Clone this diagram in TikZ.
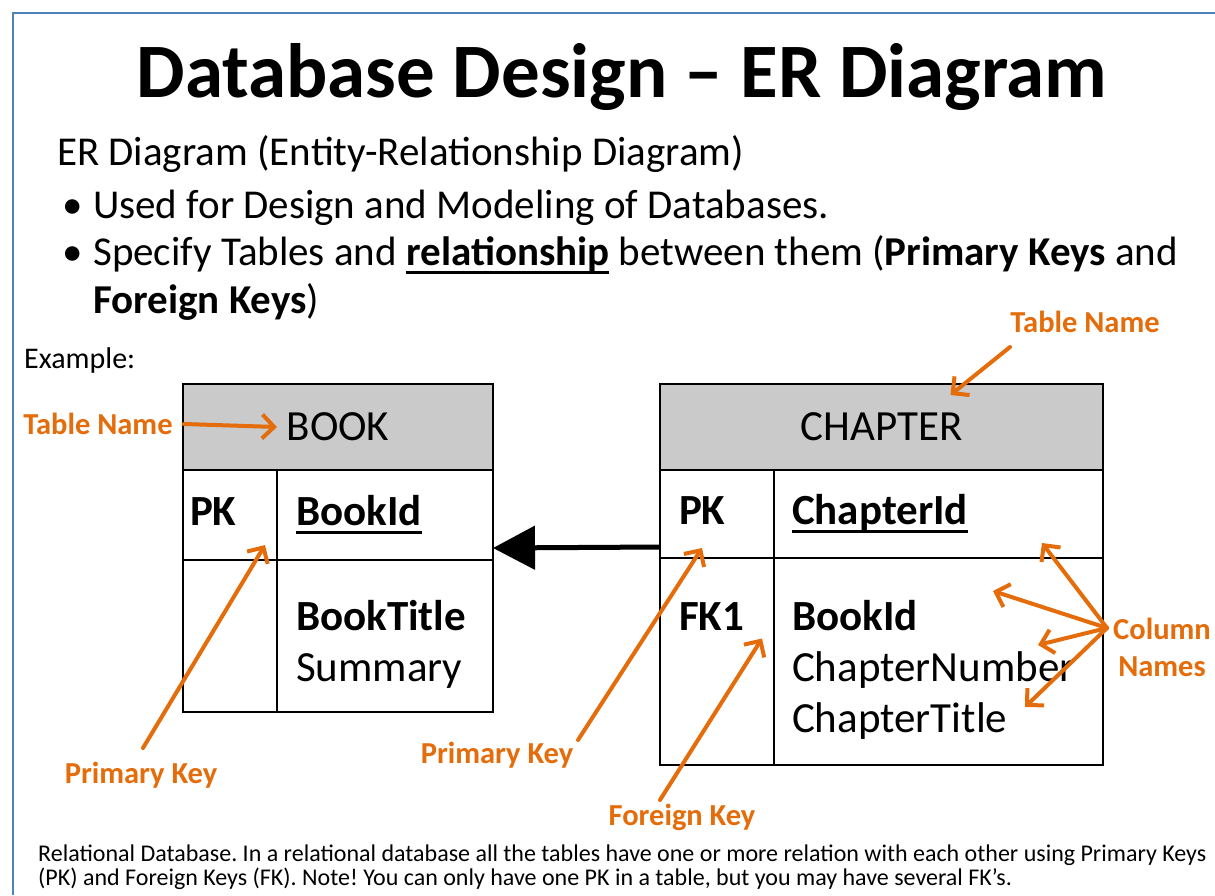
\documentclass[tikz,border=0pt]{standalone}
\usepackage{fontspec}
\setmainfont{Carlito}
\usepackage{tikz}
\usetikzlibrary{positioning}
\usetikzlibrary{arrows.meta}
\frenchspacing

\definecolor{callout}{HTML}{E46C0A}
\definecolor{frameblue}{HTML}{4F81BD}
\definecolor{headgray}{HTML}{CACACA}

\newcommand{\firstrow}{\rule{0pt}{56pt}}
\newcommand{\keyname}[1]{\setbox0\hbox{#1}\rlap{\rule[-9pt]{\wd0}{3pt}}\box0\relax}

\tikzset{
  tablecell/.style={rectangle, draw=black, line width=2.5pt, outer sep=0pt, inner ysep=0pt, align=left, font=\fontsize{43}{51}\selectfont},
  headcell/.style={tablecell, fill=headgray, align=center, minimum height=86pt},
  slidetext/.style={anchor=base west, inner sep=0pt, font=\fontsize{41}{48}\selectfont},
  callouttext/.style={text=callout, inner sep=1pt, font=\fontsize{30.5}{37}\selectfont\bfseries},
  pointer/.style={draw=callout, line width=4pt, line cap=round, -{Straight Barb[length=12pt,width=24pt]}},
  relation/.style={draw=black, line width=5pt, -{Triangle[length=42pt,width=43pt]}}
}

\begin{document}
\begin{tikzpicture}[x=1pt, y=-1pt]
  \useasboundingbox (0,0) rectangle (1215,895);
  \draw [frameblue, line width=1.5pt] (13,895) -- (13,13) -- (1215,13);

  % heading and bullets
  \node (title) [anchor=base, font=\fontsize{77}{90}\selectfont\bfseries] at (622,97) {Database Design -- ER Diagram};
  \node (subtitle) [slidetext] at (57,165) {ER Diagram (Entity-Relationship Diagram)};
  \node (dot 1) [slidetext] at (62,218) {\textbullet};
  \node (bullet 1) [slidetext] at (93,218) {Used for Design and Modeling of Databases.};
  \node (dot 2) [slidetext] at (62,265) {\textbullet};
  \node (bullet 2) [slidetext] at (93,265) {Specify Tables and \keyname{\textbf{relationship}} between them (\textbf{Primary Keys} and};
  \node (bullet 2 cont) [slidetext] at (93,313) {\textbf{Foreign Keys})};
  \node (example) [slidetext, font=\fontsize{30}{34}\selectfont] at (24,368) {Example:};

  % BOOK table
  \node (book header) [headcell, minimum width=310pt, anchor=north west] at (183,384) {BOOK};
  \node (book pk key) [tablecell, minimum width=94pt, text width=80pt, inner xsep=7pt, minimum height=90pt, below right=0pt of book header.south west] {\strut\textbf{PK}};
  \node (book pk col) [tablecell, minimum width=216pt, text width=178pt, inner xsep=19pt, minimum height=90pt, right=0pt of book pk key] {\strut\keyname{\textbf{BookId}}};
  \node (book attr key) [tablecell, minimum width=94pt, text width=80pt, inner xsep=7pt, minimum height=152pt, below=0pt of book pk key] {};
  \node (book attr col) [tablecell, minimum width=216pt, text width=178pt, inner xsep=19pt, minimum height=152pt, right=0pt of book attr key] {\firstrow\textbf{BookTitle}\\Summary\strut};

  % CHAPTER table
  \node (chapter header) [headcell, minimum width=443pt, anchor=north west] at (660,384) {CHAPTER};
  \node (chapter pk key) [tablecell, minimum width=114pt, text width=76pt, inner xsep=19pt, minimum height=88pt, below right=0pt of chapter header.south west] {\strut\textbf{PK}};
  \node (chapter pk col) [tablecell, minimum width=329pt, text width=293pt, inner xsep=18pt, minimum height=88pt, right=0pt of chapter pk key] {\strut\keyname{\textbf{ChapterId}}};
  \node (chapter fk key) [tablecell, minimum width=114pt, text width=76pt, inner xsep=18pt, minimum height=207pt, below=0pt of chapter pk key] {\firstrow\textbf{FK1}\\\strut\\\strut};
  \node (chapter fk col) [tablecell, minimum width=329pt, text width=293pt, inner xsep=18pt, minimum height=207pt, right=0pt of chapter fk key] {\firstrow\textbf{BookId}\\ChapterNumber\\ChapterTitle\strut};

  \draw [relation] ([yshift=-33pt]chapter pk key.west) -- ([yshift=-33pt]book pk col.east);

  % orange call-outs
  \node (book name label) [callouttext] at (98,424) {Table Name};
  \node (chapter name label) [callouttext] at (1085,322) {Table Name};
  \node (book pk label) [callouttext] at (141,775) {Primary Key};
  \node (chapter pk label) [callouttext] at (497,755) {Primary Key};
  \node (chapter fk label) [callouttext] at (682,817) {Foreign Key};
  \node (column label) [callouttext, align=center] at (1162,647) {Column\\Names};
  \coordinate (col hub) at (1107,628);

  \draw [pointer] ([xshift=10pt]book name label.east) -- ([xshift=94pt]book header.west);
  \draw [pointer] ([xshift=-75pt,yshift=-25pt]chapter name label.center) -- ([xshift=69pt,yshift=-11pt]chapter header.north);
  \draw [pointer] ([xshift=2pt,yshift=27pt]book pk label.center) -- ([xshift=-12pt,yshift=15pt]book pk key.south east);
  \draw [pointer] ([xshift=81pt,yshift=15pt]chapter pk label.center) -- ([xshift=-15pt,yshift=10pt]chapter pk key.south);
  \draw [pointer] ([xshift=-22pt,yshift=17pt]chapter fk label.center) -- ([xshift=-12pt,yshift=23pt]chapter fk key.east);
  \draw [pointer] (col hub) -- ([xshift=-61pt,yshift=15pt]chapter pk col.south east);
  \draw [pointer] (col hub) -- ([xshift=-110pt,yshift=-33pt]chapter pk col.south east);
  \draw [pointer] (col hub) -- ([xshift=-65pt,yshift=-87pt]chapter pk col.south east);
  \draw [pointer] (col hub) -- ([xshift=-78pt,yshift=-149pt]chapter pk col.south east);

  % footnote
  \node (footnote) [slidetext, font=\fontsize{24}{24}\selectfont] at (38,861) {Relational Database. In a relational database all the tables have one or more relation with each other using Primary Keys};
  \node (footnote cont) [slidetext, font=\fontsize{24}{24}\selectfont] at (38,885) {(PK) and Foreign Keys (FK). Note! You can only have one PK in a table, but you may have several FK's.};
\end{tikzpicture}
\end{document}
